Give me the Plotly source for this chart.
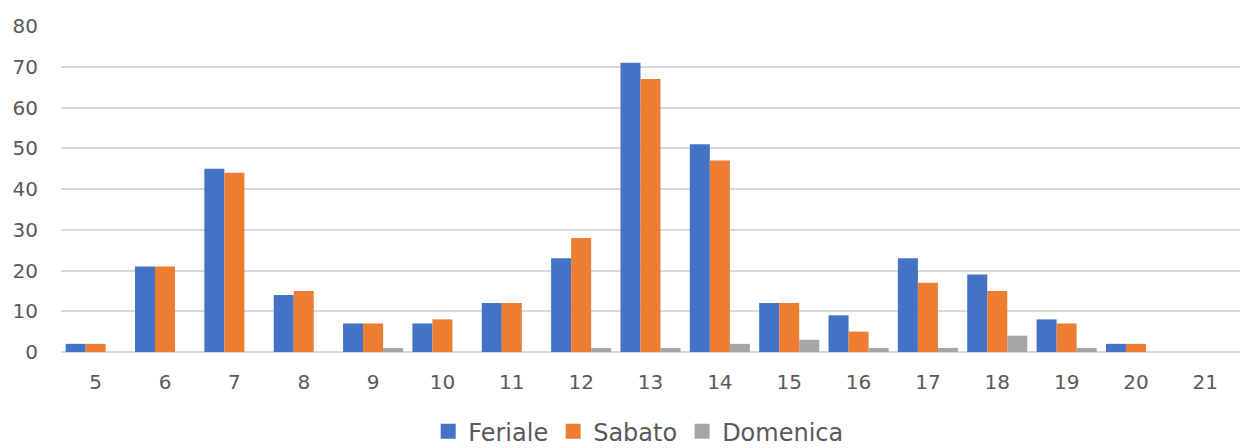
import plotly.graph_objects as go

# Hourly counts by day type
ore = ["5", "6", "7", "8", "9", "10", "11", "12", "13", "14", "15", "16", "17", "18", "19", "20", "21"]
feriale = [2, 21, 45, 14, 7, 7, 12, 23, 71, 51, 12, 9, 23, 19, 8, 2, 0]
sabato = [2, 21, 44, 15, 7, 8, 12, 28, 67, 47, 12, 5, 17, 15, 7, 2, 0]
domenica = [0, 0, 0, 0, 1, 0, 0, 1, 1, 2, 3, 1, 1, 4, 1, 0, 0]

y_ticks = [0, 10, 20, 30, 40, 50, 60, 70, 80]

font_family = "DejaVu Sans, Lato, sans-serif"
text_color = "#595959"

series = [
    ("Feriale", feriale, "#4472C4"),
    ("Sabato", sabato, "#ED7D31"),
    ("Domenica", domenica, "#A5A5A5"),
]

fig = go.Figure()
for name, vals, color in series:
    fig.add_trace(go.Bar(
        x=ore, y=vals, name=name, showlegend=False,
        marker=dict(color=color, line=dict(width=0)),
    ))

# Legend entries with larger square swatches
for name, _, color in series:
    fig.add_trace(go.Scatter(
        x=[None], y=[None], mode="markers", name=name,
        marker=dict(symbol="square", size=15, color=color, line=dict(width=0)),
        showlegend=True,
    ))

fig.update_layout(
    width=1241,
    height=448,
    barmode="group",
    bargap=0.134,
    bargroupgap=0,
    plot_bgcolor="white",
    paper_bgcolor="white",
    margin=dict(l=61, r=1, t=26, b=96, pad=0, autoexpand=False),
    font=dict(family=font_family, color=text_color, size=20),
    showlegend=True,
    legend=dict(
        orientation="h",
        x=0.49,
        xanchor="center",
        y=-0.244,
        yanchor="middle",
        font=dict(size=24, color=text_color, family=font_family),
        itemwidth=30,
        traceorder="normal",
    ),
)
fig.update_xaxes(
    type="category",
    showgrid=False,
    showline=False,
    ticks="",
    ticklabelstandoff=16,
    tickfont=dict(size=20, color=text_color),
)
fig.update_yaxes(
    range=[0, 80],
    tickvals=y_ticks,
    showgrid=True,
    gridcolor="#D9D9D9",
    gridwidth=2,
    zeroline=True,
    zerolinecolor="#D9D9D9",
    zerolinewidth=2,
    showline=False,
    ticks="",
    ticklabelstandoff=22,
    tickfont=dict(size=20, color=text_color),
)

fig.write_html("out.html")
